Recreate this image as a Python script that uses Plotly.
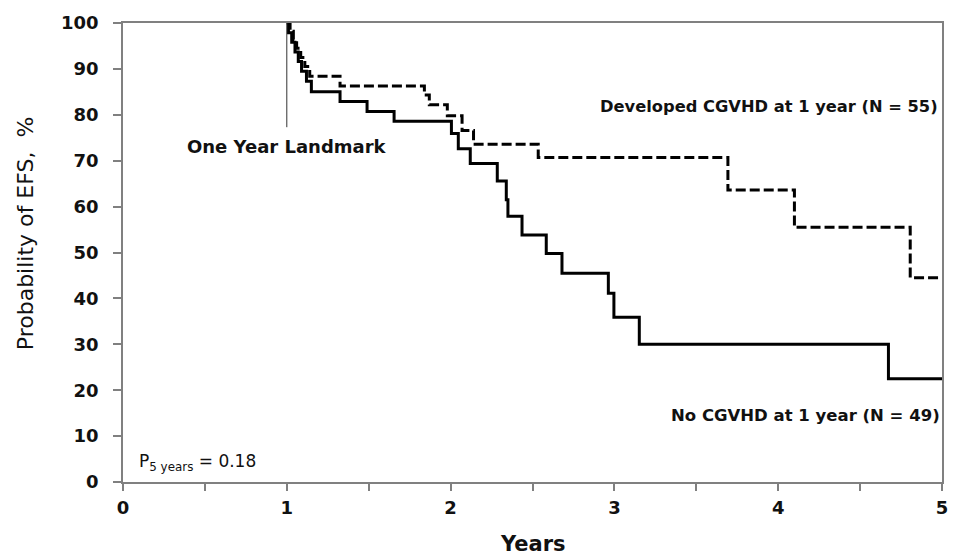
import plotly.graph_objects as go

# Kaplan-Meier style step data (time in years, EFS %)
no_cgvhd_t = [1.0, 1.01, 1.03, 1.05, 1.07, 1.09, 1.12, 1.15, 1.325, 1.49, 1.655, 2.005, 2.047, 2.12,
              2.285, 2.34, 2.35, 2.436, 2.584, 2.68, 2.963, 2.997, 3.152, 4.673, 5.0]
no_cgvhd_s = [100, 97.9, 95.8, 93.7, 91.6, 89.5, 87.3, 85.0, 82.9, 80.7, 78.6, 75.9, 72.6, 69.4,
              65.6, 61.5, 57.9, 53.8, 49.8, 45.5, 41.1, 35.9, 30.0, 22.5, 22.5]

cgvhd_t = [1.0, 1.02, 1.04, 1.06, 1.085, 1.11, 1.14, 1.325, 1.84, 1.87, 1.98, 2.07, 2.14,
           2.535, 3.693, 4.099, 4.806, 5.0]
cgvhd_s = [100, 98.2, 96.4, 94.5, 92.5, 90.5, 88.4, 86.3, 84.3, 82.2, 79.8, 76.6, 73.6,
           70.7, 63.6, 55.5, 44.5, 44.5]

x_ticks = [0, 1, 2, 3, 4, 5]
y_ticks = [0, 10, 20, 30, 40, 50, 60, 70, 80, 90, 100]

fig = go.Figure()
fig.add_trace(go.Scatter(x=cgvhd_t, y=cgvhd_s, mode="lines", line_shape="hv",
                         line=dict(color="black", width=3, dash="10px,4px"),
                         name="Developed CGVHD at 1 year (N = 55)", showlegend=False))
fig.add_trace(go.Scatter(x=no_cgvhd_t, y=no_cgvhd_s, mode="lines", line_shape="hv",
                         line=dict(color="black", width=3),
                         name="No CGVHD at 1 year (N = 49)", showlegend=False))

# landmark line
fig.add_shape(type="line", x0=1, x1=1, y0=77.3, y1=100, xref="x", yref="y",
              line=dict(color="#333333", width=1))

txt = dict(family="DejaVu Sans", color="#111111")
fig.add_annotation(x=1.0, y=73.1, text="<b>One Year Landmark</b>", showarrow=False,
                   xanchor="center", yanchor="middle", font=dict(size=18, **txt))
fig.add_annotation(x=4.99, y=81.9, text="<b>Developed CGVHD at 1 year (N = 55)</b>", showarrow=False,
                   xanchor="right", yanchor="middle", font=dict(size=16.3, **txt))
fig.add_annotation(x=5.0, y=14.4, text="<b>No CGVHD at 1 year (N = 49)</b>", showarrow=False,
                   xanchor="right", yanchor="middle", font=dict(size=16.5, **txt))
fig.add_annotation(x=0.085, y=4.3, text="P<sub>5 years</sub> = 0.18", showarrow=False,
                   xanchor="left", yanchor="middle", font=dict(size=17, **txt))

# axis titles placed as annotations
fig.add_annotation(x=0.5, y=-0.136, xref="paper", yref="paper", text="<b>Years</b>", showarrow=False,
                   xanchor="center", yanchor="middle", font=dict(size=21, **txt))
fig.add_annotation(x=-0.119, y=0.541, xref="paper", yref="paper", text="Probability of EFS,  %",
                   showarrow=False, textangle=-90, xanchor="center", yanchor="middle",
                   font=dict(size=22, **txt))

fig.update_xaxes(range=[0, 5], tickvals=x_ticks, ticktext=[str(v) for v in x_ticks],
                 ticks="outside", ticklen=7, tickwidth=1.5, tickcolor="#808080", ticklabelstandoff=2,
                 minor=dict(dtick=0.5, ticks="outside", ticklen=7, tickwidth=1.5, tickcolor="#808080"),
                 showline=True, linecolor="#808080", linewidth=1.5, mirror=True,
                 showgrid=False, zeroline=False,
                 tickfont=dict(family="DejaVu Sans", size=18, color="#111111", weight="bold"))
fig.update_yaxes(range=[0, 100], tickvals=y_ticks, ticks="outside", ticklen=8, tickwidth=1.5,
                 tickcolor="#808080", ticklabelstandoff=11,
                 showline=True, linecolor="#808080", linewidth=1.5, mirror=True,
                 showgrid=False, zeroline=False,
                 tickfont=dict(family="DejaVu Sans", size=18, color="#111111", weight="bold"))

fig.update_layout(width=960, height=558, margin=dict(l=123, r=12, t=18, b=76),
                  plot_bgcolor="white", paper_bgcolor="white", showlegend=False)

fig.write_html("out.html")
